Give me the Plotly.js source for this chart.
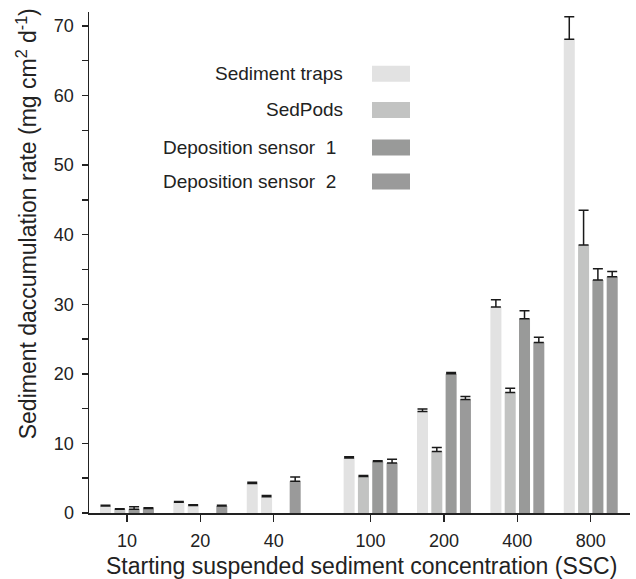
<!DOCTYPE html>
<html>
<head>
<meta charset="utf-8">
<script src="https://cdn.plot.ly/plotly-3.0.1.min.js"></script>
<style>html,body{margin:0;padding:0;background:#fff;}#chart{width:636px;height:579px;}</style>
</head>
<body>
<div id="chart"></div>
<script>
// ---- data ----
const categories = ['10', '20', '40', '100', '200', '400', '800'];
const seriesNames = ['Sediment traps', 'SedPods', 'Deposition sensor  1', 'Deposition sensor  2'];
const sedimentTraps = [1.0, 1.55, 4.25, 7.92, 14.6, 29.6, 68.1];
const sedimentTrapsErr = [0.1, 0.1, 0.18, 0.18, 0.35, 1.05, 3.2];
const sedPods = [0.55, 1.08, 2.32, 5.24, 8.85, 17.3, 38.5];
const sedPodsErr = [0.07, 0.1, 0.2, 0.15, 0.58, 0.62, 5.0];
const depSensor1 = [0.55, null, null, 7.4, 20.0, 27.9, 33.5];
const depSensor1Err = [0.35, null, null, 0.1, 0.2, 1.15, 1.6];
const depSensor2 = [0.65, 1.0, 4.57, 7.2, 16.3, 24.5, 33.95];
const depSensor2Err = [0.1, 0.1, 0.62, 0.52, 0.45, 0.75, 0.75];

// ---- layout helpers (positions / styles) ----
const catPos = [0, 1, 2, 3.32, 4.32, 5.32, 6.32];   // gap between 40 and 100
const colors = ['#e2e2e2', '#c2c3c2', '#999a99', '#9a9a9a'];
const W = 636, H = 579, ML = 89, MR = 6, MT = 12, MB = 65.5;
const px2x = px => (px - ML) / (W - ML - MR);
const px2y = py => (H - MB - py) / (H - MT - MB);
const FONT = 'Liberation Sans, Arial, Helvetica, sans-serif';
const TXT = '#222222';

const values = [sedimentTraps, sedPods, depSensor1, depSensor2];
const errs = [sedimentTrapsErr, sedPodsErr, depSensor1Err, depSensor2Err];

const traces = values.map((v, i) => {
  let col = colors[i];
  if (i === 1) col = v.map((_, k) => (k === 1 || k === 2) ? colors[0] : colors[1]);
  return {
    type: 'bar',
    name: seriesNames[i],
    x: catPos,
    y: v,
    marker: {color: col, line: {width: 0}},
    error_y: {
      type: 'data', symmetric: false,
      array: errs[i], arrayminus: v.map(() => 0),
      color: '#1a1a1a', thickness: 1.5, width: 5
    },
    showlegend: false,
    hoverinfo: 'x+y'
  };
});

// custom legend: text right-aligned left of swatch
const legRows = [73.7, 110, 147.7, 181.7];
const legTextRight = [345, 345, 338, 338];
const annotations = seriesNames.map((n, i) => ({
  xref: 'paper', yref: 'paper',
  x: px2x(legTextRight[i]), y: px2y(legRows[i]),
  xanchor: 'right', yanchor: 'middle',
  text: n.replace(/  /g, '&nbsp; '), showarrow: false,
  font: {family: FONT, size: 19, color: TXT}
}));
annotations.push({
  xref: 'paper', yref: 'paper',
  x: px2x(27), y: px2y(224.5),
  xanchor: 'center', yanchor: 'middle', textangle: -90,
  text: 'Sediment daccumulation rate (mg cm<sup>2</sup> d<sup>-1</sup>)',
  showarrow: false,
  font: {family: FONT, size: 23, color: TXT}
});
annotations.push({
  xref: 'paper', yref: 'paper',
  x: px2x(361.5), y: px2y(567),
  xanchor: 'center', yanchor: 'middle',
  text: 'Starting suspended sediment concentration (SSC)',
  showarrow: false,
  font: {family: FONT, size: 23, color: TXT}
});
const shapes = colors.map((c, i) => ({
  type: 'rect', xref: 'paper', yref: 'paper',
  x0: px2x(372), x1: px2x(410),
  y0: px2y(legRows[i] + 8), y1: px2y(legRows[i] - 8),
  fillcolor: c, line: {width: 0}
}));

const layout = {
  width: W, height: H,
  margin: {l: ML, r: MR, t: MT, b: MB, pad: 0},
  paper_bgcolor: '#ffffff', plot_bgcolor: '#ffffff',
  barmode: 'group', bargap: 0.22, bargroupgap: 0.23,
  font: {family: FONT, color: TXT},
  xaxis: {
    range: [-0.517, 6.855],
    tickvals: catPos, ticktext: categories,
    showgrid: false, zeroline: false,
    showline: true, linecolor: TXT, linewidth: 1.5,
    ticks: 'outside', ticklen: 7, tickwidth: 1.5, tickcolor: TXT,
    tickfont: {family: FONT, size: 18, color: TXT},
    ticklabelstandoff: 4
  },
  yaxis: {
    range: [0, 72],
    tickvals: [0, 10, 20, 30, 40, 50, 60, 70],
    showgrid: false, zeroline: false,
    showline: true, linecolor: TXT, linewidth: 1.5,
    ticks: 'outside', ticklen: 6, tickwidth: 1.5, tickcolor: TXT,
    minor: {dtick: 5, tick0: 0, ticks: 'outside', ticklen: 6, tickwidth: 1.5, tickcolor: TXT, showgrid: false},
    tickfont: {family: FONT, size: 18, color: TXT},
    ticklabelstandoff: 4
  },
  annotations: annotations,
  shapes: shapes
};

Plotly.newPlot('chart', traces, layout, {displayModeBar: false, staticPlot: true});
</script>
</body>
</html>
